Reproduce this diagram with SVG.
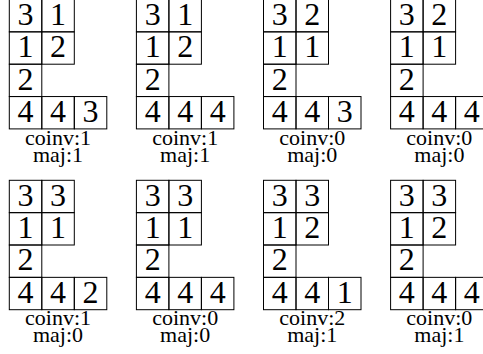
<svg xmlns="http://www.w3.org/2000/svg" width="483" height="354" viewBox="0 0 483 354" font-family="Liberation Serif, DejaVu Serif, serif">
<style>
.c{fill:none;stroke:#000;stroke-width:1}
.d{font-size:32px;text-anchor:middle;fill:#000}
.l{font-size:22px;text-anchor:middle;fill:#000}
</style>
<defs>
<g id="grid">
<rect class="c" x="0" y="0" width="32.5" height="32.35"/>
<rect class="c" x="32.5" y="0" width="32.5" height="32.35"/>
<rect class="c" x="0" y="32.35" width="32.5" height="32.35"/>
<rect class="c" x="32.5" y="32.35" width="32.5" height="32.35"/>
<rect class="c" x="0" y="64.7" width="32.5" height="32.35"/>
<rect class="c" x="0" y="97.05" width="32.5" height="32.35"/>
<rect class="c" x="32.5" y="97.05" width="32.5" height="32.35"/>
<rect class="c" x="65" y="97.05" width="32.5" height="32.35"/>
</g>
</defs>
<rect width="483" height="354" fill="#fff"/>
<g id="t1" transform="translate(9.3,-0.5)">
<use href="#grid"/>
<text class="d" x="16.25" y="25.3">3</text><text class="d" x="48.75" y="25.3">1</text>
<text class="d" x="16.25" y="57.65">1</text><text class="d" x="48.75" y="57.65">2</text>
<text class="d" x="16.25" y="90">2</text>
<text class="d" x="16.25" y="122.35">4</text><text class="d" x="48.75" y="122.35">4</text><text class="d" x="81.25" y="122.35">3</text>
<text class="l" x="48.75" y="145.8">coinv:1</text><text class="l" x="48.75" y="162.8">maj:1</text>
</g>
<g id="t2" transform="translate(136.4,-0.5)">
<use href="#grid"/>
<text class="d" x="16.25" y="25.3">3</text><text class="d" x="48.75" y="25.3">1</text>
<text class="d" x="16.25" y="57.65">1</text><text class="d" x="48.75" y="57.65">2</text>
<text class="d" x="16.25" y="90">2</text>
<text class="d" x="16.25" y="122.35">4</text><text class="d" x="48.75" y="122.35">4</text><text class="d" x="81.25" y="122.35">4</text>
<text class="l" x="48.75" y="145.8">coinv:1</text><text class="l" x="48.75" y="162.8">maj:1</text>
</g>
<g id="t3" transform="translate(263.5,-0.5)">
<use href="#grid"/>
<text class="d" x="16.25" y="25.3">3</text><text class="d" x="48.75" y="25.3">2</text>
<text class="d" x="16.25" y="57.65">1</text><text class="d" x="48.75" y="57.65">1</text>
<text class="d" x="16.25" y="90">2</text>
<text class="d" x="16.25" y="122.35">4</text><text class="d" x="48.75" y="122.35">4</text><text class="d" x="81.25" y="122.35">3</text>
<text class="l" x="48.75" y="145.8">coinv:0</text><text class="l" x="48.75" y="162.8">maj:0</text>
</g>
<g id="t4" transform="translate(390.6,-0.5)">
<use href="#grid"/>
<text class="d" x="16.25" y="25.3">3</text><text class="d" x="48.75" y="25.3">2</text>
<text class="d" x="16.25" y="57.65">1</text><text class="d" x="48.75" y="57.65">1</text>
<text class="d" x="16.25" y="90">2</text>
<text class="d" x="16.25" y="122.35">4</text><text class="d" x="48.75" y="122.35">4</text><text class="d" x="81.25" y="122.35">4</text>
<text class="l" x="48.75" y="145.8">coinv:0</text><text class="l" x="48.75" y="162.8">maj:0</text>
</g>
<g id="b1" transform="translate(9.3,180.3)">
<use href="#grid"/>
<text class="d" x="16.25" y="25.3">3</text><text class="d" x="48.75" y="25.3">3</text>
<text class="d" x="16.25" y="57.65">1</text><text class="d" x="48.75" y="57.65">1</text>
<text class="d" x="16.25" y="90">2</text>
<text class="d" x="16.25" y="122.35">4</text><text class="d" x="48.75" y="122.35">4</text><text class="d" x="81.25" y="122.35">2</text>
<text class="l" x="48.75" y="145">coinv:1</text><text class="l" x="48.75" y="162">maj:0</text>
</g>
<g id="b2" transform="translate(136.4,180.3)">
<use href="#grid"/>
<text class="d" x="16.25" y="25.3">3</text><text class="d" x="48.75" y="25.3">3</text>
<text class="d" x="16.25" y="57.65">1</text><text class="d" x="48.75" y="57.65">1</text>
<text class="d" x="16.25" y="90">2</text>
<text class="d" x="16.25" y="122.35">4</text><text class="d" x="48.75" y="122.35">4</text><text class="d" x="81.25" y="122.35">4</text>
<text class="l" x="48.75" y="145">coinv:0</text><text class="l" x="48.75" y="162">maj:0</text>
</g>
<g id="b3" transform="translate(263.5,180.3)">
<use href="#grid"/>
<text class="d" x="16.25" y="25.3">3</text><text class="d" x="48.75" y="25.3">3</text>
<text class="d" x="16.25" y="57.65">1</text><text class="d" x="48.75" y="57.65">2</text>
<text class="d" x="16.25" y="90">2</text>
<text class="d" x="16.25" y="122.35">4</text><text class="d" x="48.75" y="122.35">4</text><text class="d" x="81.25" y="122.35">1</text>
<text class="l" x="48.75" y="145">coinv:2</text><text class="l" x="48.75" y="162">maj:1</text>
</g>
<g id="b4" transform="translate(390.6,180.3)">
<use href="#grid"/>
<text class="d" x="16.25" y="25.3">3</text><text class="d" x="48.75" y="25.3">3</text>
<text class="d" x="16.25" y="57.65">1</text><text class="d" x="48.75" y="57.65">2</text>
<text class="d" x="16.25" y="90">2</text>
<text class="d" x="16.25" y="122.35">4</text><text class="d" x="48.75" y="122.35">4</text><text class="d" x="81.25" y="122.35">4</text>
<text class="l" x="48.75" y="145">coinv:0</text><text class="l" x="48.75" y="162">maj:1</text>
</g>
</svg>
